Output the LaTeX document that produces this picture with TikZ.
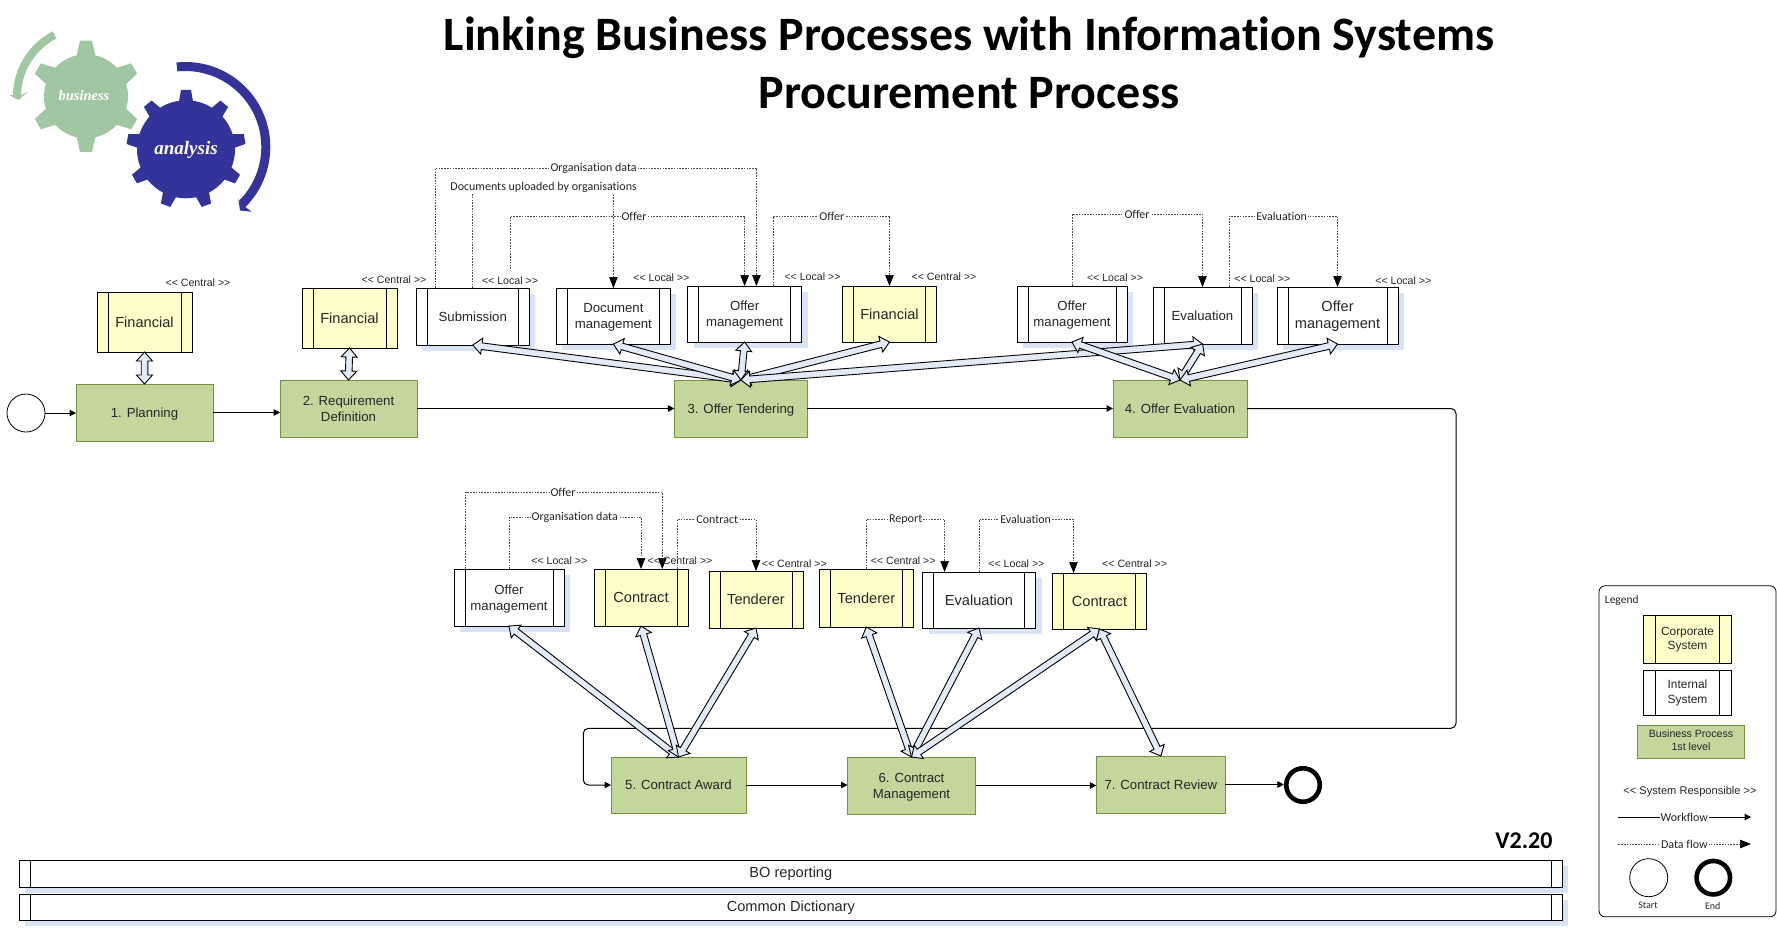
\documentclass[tikz,border=0pt]{standalone}
\usepackage{fontspec}
\usetikzlibrary{arrows.meta,calc,shadows}
\setmainfont{Liberation Sans}
\newfontfamily\carl[Ligatures=NoCommon]{Carlito}
\newfontfamily\tnr{Liberation Serif}
\newcommand{\fsz}[2]{\fontsize{#1}{#2}\selectfont}
\newcommand{\lowertwo}{\rule{0pt}{12pt}}
\newcommand{\opn}{<\kern0pt<}
\newcommand{\cls}{>\kern0pt>}
\definecolor{shadowblue}{HTML}{D9E3F3}
\definecolor{corpyellow}{HTML}{FFFFCC}
\definecolor{procgreen}{HTML}{C3D69B}
\definecolor{procborder}{HTML}{76923C}
\definecolor{blockblue}{HTML}{E3EBF8}
\definecolor{gearblue}{HTML}{333399}
\definecolor{geargreen}{HTML}{A0C6A2}
\definecolor{dashgray}{HTML}{505050}
\tikzset{
 sysbox/.style={draw=black,line width=1pt,rectangle,inner sep=0pt,outer sep=0pt,align=center,
   font=\fsz{13.2}{16},text=black!85,
   path picture={
     \draw[black,line width=1pt] ([xshift=#1]path picture bounding box.north west) -- ([xshift=#1]path picture bounding box.south west);
     \draw[black,line width=1pt] ([xshift=-#1]path picture bounding box.north east) -- ([xshift=-#1]path picture bounding box.south east);
   }},
 sysbox/.default=11pt,
 corp/.style={sysbox=#1,fill=corpyellow,font=\fsz{14.6}{17}},
 corp/.default=11pt,
 internal/.style={sysbox=#1,fill=white,general shadow={fill=shadowblue,shadow xshift=6pt,shadow yshift=-6pt}},
 internal/.default=11pt,
 plain/.style={sysbox=#1,fill=white},
 plain/.default=12pt,
 proc/.style={draw=procborder,fill=procgreen,line width=1pt,rectangle,inner sep=0pt,outer sep=0pt,align=center,font=\fsz{13.2}{16},text=black!85},
 startev/.style={circle,draw=black,line width=.8pt,fill=white,inner sep=0pt,minimum size=38pt},
 endev/.style={circle,draw=black,line width=4.6pt,fill=white,inner sep=0pt,minimum size=33.5pt},
 resp/.style={font=\fsz{10.6}{12},text=black!85,inner sep=0pt},
 flowlabel/.style={font=\carl\fsz{12}{14},text=black!85,fill=white,inner sep=1pt},
 workflow/.style={draw=black,line width=1pt,-{Triangle[length=6.5pt,width=6.5pt]}},
 dataflow/.style={draw=dashgray,line width=.7pt,dash pattern=on 1.6pt off 1.2pt,-{Triangle[length=11pt,width=8.5pt,fill=black,color=black]}},
 blockedge/.style={draw=black,line width=.9pt,fill=blockblue,line join=miter},
 plaintext/.style={inner sep=0pt,text=black}
}
\newcommand{\blockarrow}[2]{\draw[blockedge]
 (#1) -- ($(#1)!9pt!(#2)!8pt!90:(#2)$) -- ($(#1)!9pt!(#2)!3.3pt!90:(#2)$) -- ($(#2)!9pt!(#1)!3.3pt!-90:(#1)$) -- ($(#2)!9pt!(#1)!8pt!-90:(#1)$) -- (#2) -- ($(#2)!9pt!(#1)!8pt!90:(#1)$) -- ($(#2)!9pt!(#1)!3.3pt!90:(#1)$) -- ($(#1)!9pt!(#2)!3.3pt!-90:(#2)$) -- ($(#1)!9pt!(#2)!8pt!-90:(#2)$) -- cycle;}
% source, level y, destination, label, label x, label name
\newcommand{\dflow}[6]{%
 \path (#1) coordinate (tmpA) (#3) coordinate (tmpB);
 \draw[dataflow] (tmpA) -- (tmpA |- 0,#2) -- (tmpB |- 0,#2) -- (tmpB);
 \node[flowlabel] (#6) at (#5,#2) {#4};}
\begin{document}
\begin{tikzpicture}[x=1pt,y=-1pt]
\useasboundingbox (0,0) rectangle (1777,927);

% logo
\begin{scope}[shift={(86,96.3)},y=1pt]
 \fill[geargreen] (0,0) circle[radius=42];
 \foreach \a in {0,60,120,180,240,300}
   \fill[geargreen,rotate=\a] (-10,38) -- (-6,55.6) -- (6,55.6) -- (10,38) -- cycle;
 \fill[geargreen] (117:73) arc[start angle=117,end angle=179,radius=73] -- (-77,1.3) -- (-67.7,-3.7) -- (-57.7,4.6) -- (-65,1) arc[start angle=179,end angle=117,radius=65] -- cycle;
\end{scope}
\node[plaintext,text=white] (bizword) at (84,96) {\tnr\bfseries\itshape\fsz{14.5}{16}business};
\begin{scope}[shift={(186,149.3)},y=1pt]
 \fill[gearblue] (0,0) circle[radius=49];
 \foreach \a in {0,40,80,120,160,200,240,280,320}
   \fill[gearblue,rotate=\a] (-7.5,45) -- (-5,59.5) -- (5,59.5) -- (7.5,45) -- cycle;
\end{scope}
\begin{scope}[shift={(185.3,147)},y=1pt]
 \fill[gearblue] (96:85) arc[start angle=96,end angle=-45,radius=85] -- (66.4,-64.7) -- (54.7,-63.5) -- (53,-51.3) -- (-45:76) arc[start angle=-45,end angle=96,radius=76] -- cycle;
\end{scope}
\node[plaintext,text=white] (anaword) at (186,150) {\tnr\bfseries\itshape\fsz{19}{21}analysis};

% title
\node[plaintext] (title1) at (969,37.5) {\carl\bfseries\fsz{48}{54}Linking Business Processes with Information Systems};
\node[plaintext] (title2) at (969,93.5) {\carl\bfseries\fsz{48}{54}Procurement Process};
\node[plaintext] (version) at (1524,840.5) {\carl\bfseries\fsz{24}{27}V2.20};

% process boxes
\node[startev] (start) at (26,413) {};
\node[proc,minimum width=137pt,minimum height=57pt,text depth=0pt] (plan) at (144.5,412.5) {1. Planning};
\node[proc,minimum width=137pt,minimum height=57pt] (req) at (348.5,408.5) {2. Requirement\\Definition};
\node[proc,minimum width=133pt,minimum height=57pt,text depth=0pt] (ot) at (740.9,408.5) {3. Offer Tendering};
\node[proc,minimum width=134pt,minimum height=57pt] (oe) at (1180,408.5) {4. Offer Evaluation};
\node[proc,minimum width=135pt,minimum height=56pt] (award) at (678.5,785) {5. Contract Award};
\node[proc,minimum width=128pt,minimum height=57pt] (cm) at (911.5,785.5) {\lowertwo 6. Contract\\Management};
\node[proc,minimum width=129pt,minimum height=57pt] (review) at (1160.9,784.5) {7. Contract Review};
\node[endev] (finish) at (1303,785) {};

% system boxes
\node[corp,minimum width=95pt,minimum height=60pt] (fin1) at (144.5,322) {Financial};
\node[corp,minimum width=95pt,minimum height=60pt] (fin2) at (349.5,318) {Financial};
\node[internal,minimum width=113pt,minimum height=57pt] (sub) at (472.8,316.5) {Submission};
\node[internal,minimum width=114pt,minimum height=56pt] (doc) at (613.4,316) {\lowertwo Document\\management};
\node[internal,minimum width=114pt,minimum height=56pt] (off1) at (744.6,314) {\lowertwo Offer\\management};
\node[corp,minimum width=94pt,minimum height=56pt] (fin3) at (889.5,314) {Financial};
\node[internal,minimum width=110pt,minimum height=56pt] (off2) at (1072,314) {\lowertwo Offer\\management};
\node[internal,minimum width=99pt,minimum height=57pt] (eval1) at (1202.5,315.5) {Evaluation};
\node[internal,minimum width=121pt,minimum height=57pt,font=\fsz{14.6}{17}] (off3) at (1337.5,315.5) {\lowertwo Offer\\management};
\node[internal,minimum width=110pt,minimum height=57pt] (off4) at (509,597.5) {\lowertwo Offer\\management};
\node[corp,minimum width=94pt,minimum height=57pt] (con1) at (641,597.5) {Contract};
\node[corp,minimum width=94pt,minimum height=57pt] (ten1) at (756,599.5) {Tenderer};
\node[corp,minimum width=94.6pt,minimum height=58pt] (ten2) at (866.3,598) {Tenderer};
\node[internal,minimum width=113pt,minimum height=56pt,font=\fsz{14.6}{17}] (eval2) at (979,600) {Evaluation};
\node[corp,minimum width=94pt,minimum height=56pt] (con2) at (1099.5,601) {Contract};

% long bars
\node[internal,minimum width=1543pt,minimum height=27pt,font=\fsz{14.6}{17}] (bo) at (790.85,873.8) {BO reporting};
\node[internal,minimum width=1543pt,minimum height=26pt,font=\fsz{14.6}{17}] (dict) at (790.85,907.3) {Common Dictionary};

% workflow
\draw[workflow] (start.east) -- (start.east -| plan.west);
\draw[workflow] (plan.east) -- (plan.east -| req.west);
\draw[workflow] (req.east) -- (req.east -| ot.west);
\draw[workflow] (ot.east) -- (ot.east -| oe.west);
\coordinate (bendA) at (1456,408.5);
\coordinate (bendB) at (1456,728.3);
\coordinate (bendC) at (583.3,728.3);
\coordinate (bendD) at (583.3,785);
\draw[workflow,rounded corners=5pt] (oe.east) -- (bendA) -- (bendB) -- (bendC) -- (bendD) -- (award.west);
\draw[workflow] (award.east) -- (award.east -| cm.west);
\draw[workflow] (cm.east) -- (cm.east -| review.west);
\draw[workflow] (review.east) -- (review.east -| finish.west);

% block arrows
\blockarrow{fin1.south}{plan.north}
\blockarrow{fin2.south}{req.north}
\blockarrow{sub.south}{ot.north}
\blockarrow{doc.south}{ot.north}
\blockarrow{off1.south}{ot.north}
\blockarrow{fin3.south}{ot.north}
\blockarrow{eval1.south}{ot.north}
\blockarrow{off2.south}{oe.north}
\blockarrow{eval1.south}{oe.north}
\blockarrow{off3.south}{oe.north}
\blockarrow{off4.south}{award.north}
\blockarrow{con1.south}{award.north}
\blockarrow{ten1.south}{award.north}
\blockarrow{ten2.south}{cm.north}
\blockarrow{eval2.south}{cm.north}
\blockarrow{con2.south}{cm.north}
\blockarrow{con2.south}{review.north}

% data flows
\coordinate (offerfree) at (510.4,269);
\dflow{[xshift=-37.4pt]sub.north}{168}{[xshift=11.8pt]off1.north}{Organisation data}{593.6}{fl1}
\dflow{sub.north}{187}{doc.north}{Documents uploaded by organisations}{543.6}{fl2}
\dflow{offerfree}{216}{off1.north}{Offer}{634}{fl3}
\dflow{[xshift=28.6pt]off1.north}{216}{fin3.north}{Offer}{831.8}{fl4}
\dflow{off2.north}{214.3}{eval1.north}{Offer}{1137}{fl5}
\dflow{[xshift=26.8pt]eval1.north}{216.3}{off3.north}{Evaluation}{1281.7}{fl6}
\dflow{[xshift=-43.3pt]off4.north}{492.3}{[xshift=21.3pt]con1.north}{Offer}{563}{fl7}
\dflow{off4.north}{517.3}{con1.north}{Organisation data}{574.7}{fl8}
\dflow{[xshift=36.3pt]con1.north}{519.3}{ten1.north}{Contract}{717.3}{fl9}
\dflow{ten2.north}{519.3}{[xshift=-34.4pt]eval2.north}{Report}{905.7}{fl10}
\dflow{eval2.north}{519.3}{[xshift=-26pt]con2.north}{Evaluation}{1025.7}{fl11}

% responsibility labels
\node[resp] (r1) at (198,283) {\opn{} Central \cls};
\node[resp] (r2) at (394,279.5) {\opn{} Central \cls};
\node[resp] (r3) at (510,281) {\opn{} Local \cls};
\node[resp] (r4) at (661.4,278) {\opn{} Local \cls};
\node[resp] (r5) at (812.5,276.7) {\opn{} Local \cls};
\node[resp] (r6) at (944,276.5) {\opn{} Central \cls};
\node[resp] (r7) at (1115,277.7) {\opn{} Local \cls};
\node[resp] (r8) at (1262.3,278.7) {\opn{} Local \cls};
\node[resp] (r9) at (1403.3,280.3) {\opn{} Local \cls};
\node[resp] (r10) at (559.3,560.7) {\opn{} Local \cls};
\node[resp] (r11) at (680,560.7) {\opn{} Central \cls};
\node[resp] (r12) at (794.3,563.3) {\opn{} Central \cls};
\node[resp] (r13) at (903.2,560.7) {\opn{} Central \cls};
\node[resp] (r14) at (1016.4,563.3) {\opn{} Local \cls};
\node[resp] (r15) at (1134.6,563.3) {\opn{} Central \cls};

% legend
\node[draw=black,line width=.8pt,rounded corners=6pt,minimum width=177pt,minimum height=331pt,inner sep=0pt,outer sep=0pt] (legend) at (1687.5,751.3) {};
\node[plaintext,anchor=west,text=black!85] (legendtitle) at (1604.7,600.7) {\carl\fsz{11.5}{13}Legend};
\node[corp=12pt,minimum width=88.4pt,minimum height=48pt,font=\fsz{11.9}{14.3}] (lcorp) at (1687.5,639.3) {Corporate\\System};
\node[plain,minimum width=88.4pt,minimum height=45pt,font=\fsz{11.9}{14.3}] (lint) at (1687.5,692.8) {Internal\\System};
\node[proc,minimum width=107.4pt,minimum height=33.4pt,font=\fsz{10.6}{13}] (lproc) at (1691,742) {Business Process\\1st level\rule[-3pt]{0pt}{0pt}};
\node[plaintext,text=black!85,font=\fsz{11.1}{13}] (lresp) at (1690,791.5) {\opn{} System Responsible \cls};
\coordinate (wfa) at (1618.3,817);
\coordinate (wfb) at (1751,817);
\coordinate (dfa) at (1618.3,844);
\coordinate (dfb) at (1751,844);
\draw[workflow] (wfa) -- (wfb);
\draw[dataflow] (dfa) -- (dfb);
\node[flowlabel] (lwf) at (1684.3,817) {Workflow};
\node[flowlabel] (ldf) at (1684.3,844) {Data flow};
\node[startev] (lstart) at (1648.7,877.7) {};
\node[endev] (lend) at (1713.3,877.7) {};
\node[plaintext,text=black!85] (lstarttxt) at (1648,905.7) {\carl\fsz{10}{11}Start};
\node[plaintext,text=black!85] (lendtxt) at (1712.7,905.7) {\carl\fsz{10}{11}End};
\end{tikzpicture}
\end{document}
